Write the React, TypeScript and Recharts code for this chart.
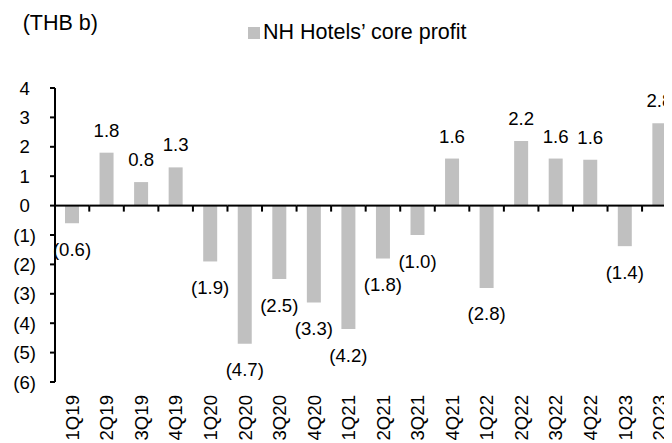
import React from 'react';
import { BarChart, Bar, XAxis, YAxis, LabelList, Legend } from 'recharts';

const quarters = ['1Q19', '2Q19', '3Q19', '4Q19', '1Q20', '2Q20', '3Q20', '4Q20', '1Q21', '2Q21', '3Q21', '4Q21', '1Q22', '2Q22', '3Q22', '4Q22', '1Q23', '2Q23'];
const coreProfit = [-0.6, 1.8, 0.8, 1.3, -1.9, -4.7, -2.5, -3.3, -4.2, -1.8, -1.0, 1.6, -2.8, 2.2, 1.6, 1.56, -1.38, 2.8];
const yTicks = [-6, -5, -4, -3, -2, -1, 0, 1, 2, 3, 4];
const seriesName = 'NH Hotels\u2019 core profit';
const unitLabel = '(THB b)';

const data = quarters.map((q, i) => ({ q, v: coreProfit[i] }));

const FONT = '"Liberation Sans", Arial, sans-serif';
const BAR_COLOR = '#c0c0c0';
const TICK_FS = 18.6;
const TITLE_FS = 21.5;

const CHART_W = 700;
const CHART_H = 460;
const YAXIS_W = 55;
const MARGIN = { top: 88, right: 23.1, left: 0, bottom: 0 };
const PLOT_W = CHART_W - YAXIS_W - MARGIN.left - MARGIN.right;
const BAND = PLOT_W / quarters.length;

const fmtVal = (v: number) => (v < 0 ? `(${Math.abs(v).toFixed(1)})` : v.toFixed(1));

const YTick = (props: any) => {
  const { x, y, payload } = props;
  const v = Number(payload.value);
  return (
    <text x={x} y={y} textAnchor="end" dominantBaseline="central" fontSize={TICK_FS} fontFamily={FONT} fill="#000">
      {v < 0 ? `(${-v})` : `${v}`}
      {v >= 0 ? <tspan fill="none">)</tspan> : null}
    </text>
  );
};

const XTick = (props: any) => {
  const { x, y, payload } = props;
  return (
    <text x={x} y={y} transform={`rotate(-90, ${x}, ${y})`} textAnchor="end" dominantBaseline="central" fontSize={TICK_FS} fontFamily={FONT} fill="#000">
      {payload.value}
    </text>
  );
};

// Label for each bar, plus the zero-axis segment of its category band (drawn above the bars)
const BarLabel = (props: any) => {
  const x = Number(props.x);
  const y = Number(props.y);
  const w = Number(props.width);
  const h = Number(props.height);
  const value = Number(props.value);
  const top = Math.min(y, y + h);
  const bottom = Math.max(y, y + h);
  const neg = value < 0;
  const cx = x + w / 2;
  const zeroY = neg ? top : bottom;
  const left = cx - BAND / 2;
  const right = cx + BAND / 2;
  return (
    <g>
      <rect x={left} y={zeroY - 1} width={BAND} height={2} fill="#000" />
      <rect x={right - 1} y={zeroY} width={2} height={6} fill="#000" />
      <text x={cx} y={neg ? bottom + 26 : top - 22.5} textAnchor="middle" dominantBaseline="central" fontSize={TICK_FS} fontFamily={FONT} fill="#000">
        {fmtVal(value)}
      </text>
    </g>
  );
};

const LegendContent = (props: any) => {
  const payload = props.payload && props.payload.length ? props.payload : [{ value: seriesName, color: BAR_COLOR }];
  return (
    <div style={{ display: 'flex', alignItems: 'center', fontFamily: FONT, fontSize: TITLE_FS, lineHeight: 1, color: '#000', whiteSpace: 'nowrap' }}>
      {payload.map((p: any, i: number) => (
        <div key={i} style={{ display: 'flex', alignItems: 'center' }}>
          <span style={{ display: 'inline-block', width: 12, height: 12, background: BAR_COLOR, marginRight: 3 }} />
          <span>{p.value}</span>
        </div>
      ))}
    </div>
  );
};

export default function App() {
  return (
    <div style={{ position: 'relative', width: 672, height: 443, overflow: 'hidden', margin: '-8px 0 0 -8px', fontFamily: FONT }}>
      <div style={{ position: 'absolute', left: 22.7, top: 12.5, fontSize: TITLE_FS, lineHeight: 1, color: '#000', whiteSpace: 'nowrap' }}>
        {unitLabel}
      </div>
      <BarChart width={CHART_W} height={CHART_H} data={data} margin={MARGIN}>
        <XAxis dataKey="q" interval={0} axisLine={false} tickLine={false} tickSize={0} tickMargin={13} height={78} tick={<XTick />} />
        <YAxis width={YAXIS_W} domain={[-6, 4]} ticks={yTicks} interval={0} axisLine={{ stroke: '#000', strokeWidth: 2 }} tickLine={{ stroke: '#000', strokeWidth: 2 }} tickSize={5} tickMargin={14} tick={<YTick />} />
        <Legend verticalAlign="middle" align="center" layout="horizontal" wrapperStyle={{ top: 21.8, left: 248, width: 'auto', height: 'auto', margin: 0, padding: 0 }} content={<LegendContent />} />
        <Bar dataKey="v" name={seriesName} fill={BAR_COLOR} barSize={14} isAnimationActive={false}>
          <LabelList dataKey="v" content={<BarLabel />} />
        </Bar>
      </BarChart>
    </div>
  );
}
